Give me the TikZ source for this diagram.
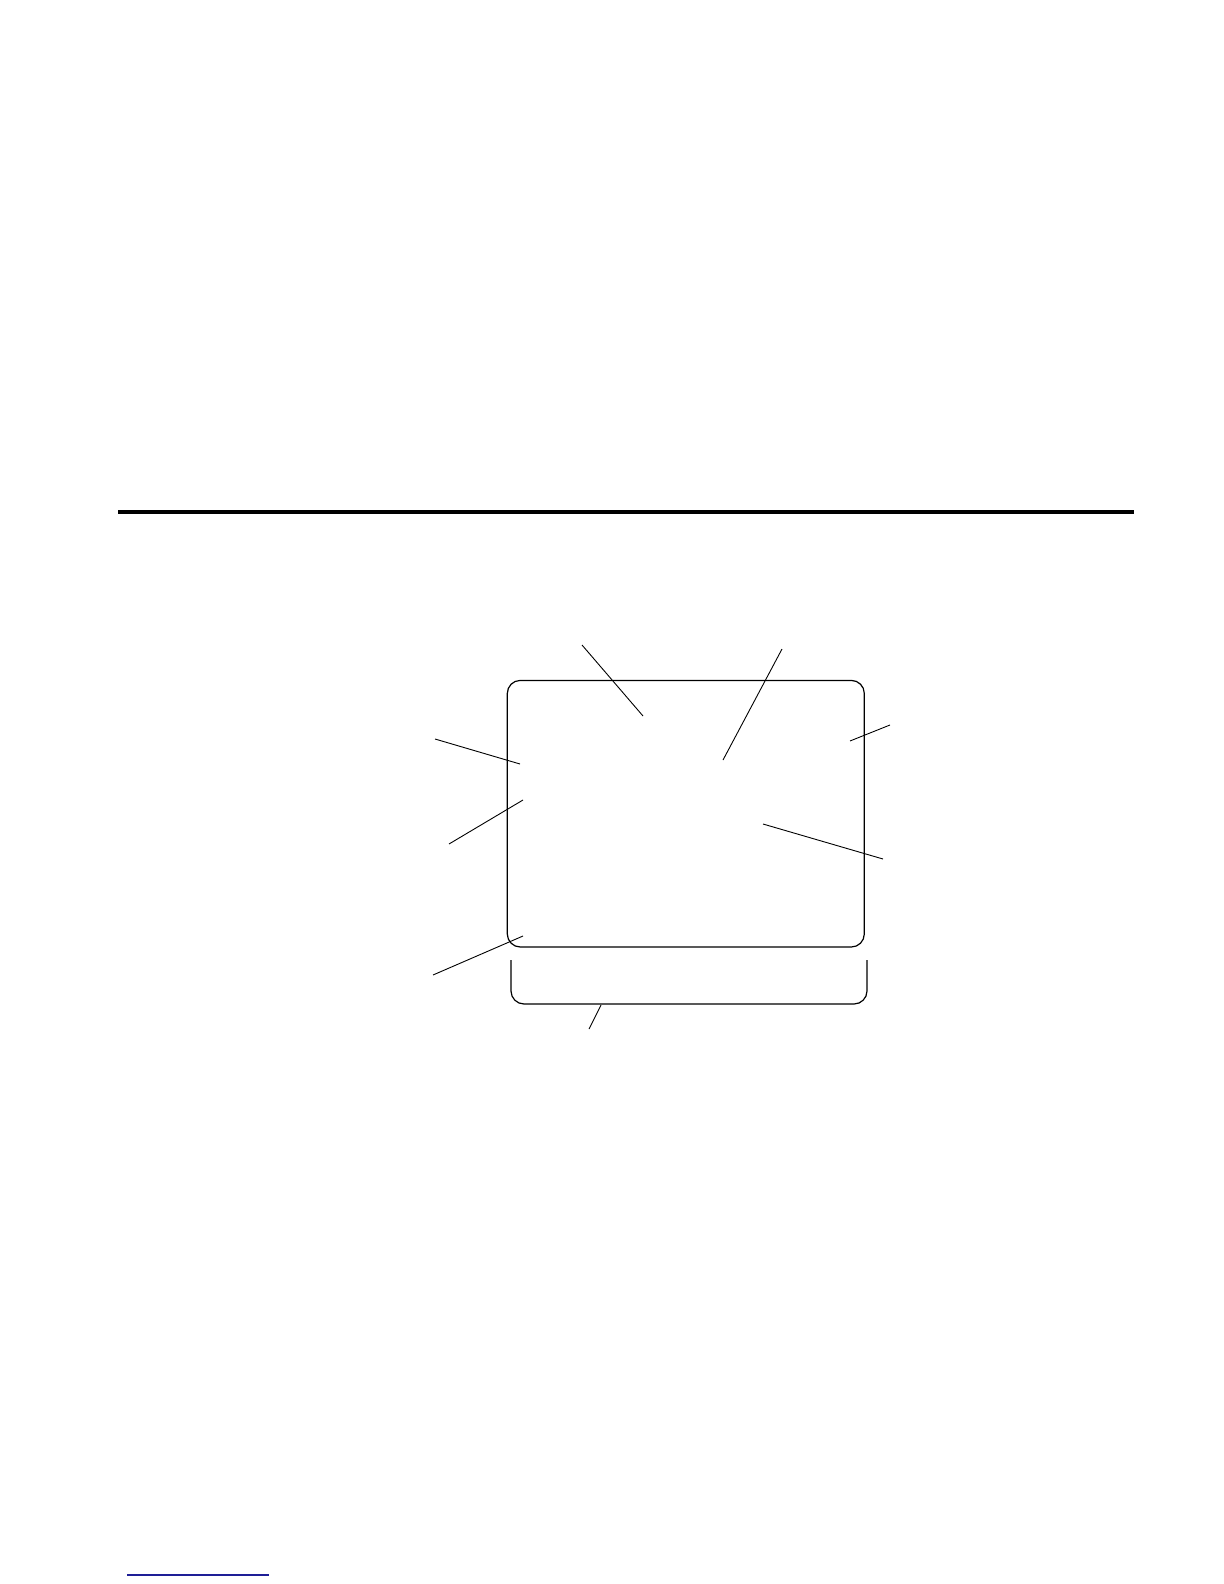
\documentclass[tikz,border=0pt]{standalone}
\usepackage{tikz}
\usetikzlibrary{positioning}

\definecolor{footblue}{RGB}{30,30,150}

\begin{document}
\begin{tikzpicture}[x = 0.5pt, y = -0.5pt,
                    frame/.style = {draw,
                                    black,
                                    rounded corners = 6.5pt,
                                    line width = 0.6pt},
                    lead/.style  = {draw,
                                    black,
                                    line width = 0.45pt},
                    rule/.style  = {draw,
                                    black,
                                    line width = 1.6pt}]

\useasboundingbox (0,0) rectangle (1224,1584);

% heading rule
\coordinate (ruleL) at (118,512);
\coordinate (ruleR) at (1134,512);
\draw[rule] (ruleL) -- (ruleR);

% screen outline
\node[frame, minimum width = 178.5pt, minimum height = 133.3pt,
      inner sep = 0pt, outer sep = 0pt] (screen) at (685.8,813.7) {};

% bracket under the screen
\coordinate (brL) at (511,960);
\coordinate (brR) at (867,960);
\coordinate (brBase) at (689,1004);
\draw[frame] (brL) |- (brBase) -| (brR);

% leader lines
\coordinate (topA) at (582,645);
\coordinate (topAend) at (643,716);
\coordinate (topB) at (782,649);
\coordinate (topBend) at (723,760);
\coordinate (rightA) at (890,725);
\coordinate (rightAend) at (850,741);
\coordinate (rightB) at (883,859);
\coordinate (rightBend) at (763,824);
\coordinate (leftA) at (435,739);
\coordinate (leftAend) at (520,764);
\coordinate (leftB) at (449,844);
\coordinate (leftBend) at (523,800);
\coordinate (leftC) at (433,975);
\coordinate (leftCend) at (523,936);
\coordinate (botA) at (589,1029);
\coordinate (botAend) at (601,1005);

\draw[lead] (topA) -- (topAend);
\draw[lead] (topB) -- (topBend);
\draw[lead] (rightA) -- (rightAend);
\draw[lead] (rightB) -- (rightBend);
\draw[lead] (leftA) -- (leftAend);
\draw[lead] (leftB) -- (leftBend);
\draw[lead] (leftC) -- (leftCend);
\draw[lead] (botA) -- (botAend);

% footnote rule
\coordinate (footL) at (127,1575);
\coordinate (footR) at (269,1575);
\draw[footblue, line width = 0.7pt] (footL) -- (footR);

\end{tikzpicture}
\end{document}
